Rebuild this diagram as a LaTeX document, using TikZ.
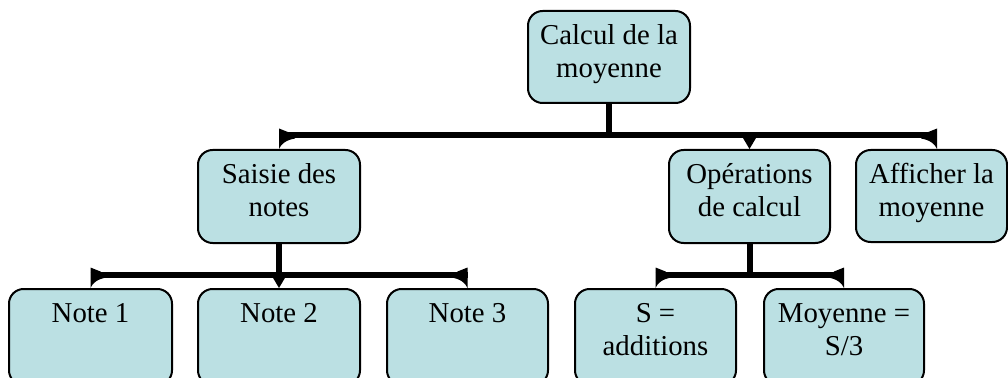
\documentclass[tikz,border=0pt]{standalone}
\usepackage{fontspec}
\setmainfont{Liberation Serif}
\usetikzlibrary{calc}
\newlength\PX \setlength\PX{0.75pt}
\definecolor{boxfill}{HTML}{BBE0E3}
\newcommand\btext[3]{\parbox[c][#2\PX][t]{#1\PX}{\centering\rule{0pt}{33.5\PX}#3}}
\tikzset{
  box/.style={draw=black, line width=1.5pt, fill=boxfill, rounded corners=11pt,
    inner sep=0pt, anchor=north west, font=\fontsize{21.6pt}{24.75pt}\selectfont},
  trunk/.style={line width=4.5pt},
  bar/.style={line width=4.5pt},
  wedge/.style={fill=black},
}
\begin{document}
\begin{tikzpicture}[x=0.75pt,y=-0.75pt]
\clip (0,0) rectangle (1008,378);
% boxes
\node[box] (top)    at (527,10)  {\btext{162}{92}{Calcul de la\\moyenne}};
\node[box] (saisie) at (197,149) {\btext{162}{93}{Saisie des\\notes}};
\node[box] (oper)   at (668,149) {\btext{161}{93}{Op\'erations\\de calcul}};
\node[box] (affich) at (855,149) {\btext{151}{92}{Afficher la\\moyenne}};
\node[box] (note1)  at (8,288)   {\btext{163}{96}{Note 1}};
\node[box] (note2)  at (197,288) {\btext{162}{96}{Note 2}};
\node[box] (note3)  at (386,288) {\btext{161}{96}{Note 3}};
\node[box] (somme)  at (574,288) {\btext{161}{96}{S =\\additions}};
\node[box] (moy)    at (763,288) {\btext{160}{96}{Moyenne =\\S/3}};
% level 1 connector
\coordinate (b1L) at ($(saisie.north)+(0,-13.5)$);
\coordinate (b1R) at ($(affich.north)+(5.5,-13.5)$);
\draw[bar] (b1L) -- (b1R);
\draw[trunk] (top.south) -- (top.south |- b1L);
\fill[wedge, shift={(saisie.north)}] (0,0) -- (0,-20.5) -- (10,-16.5) -- (16,-10.5) .. controls (7,-9) and (2,-5) .. (0,0) -- cycle;
\fill[wedge, shift={($(affich.north)+(5.5,0)$)}, xscale=-1] (0,0) -- (0,-20.5) -- (10,-16.5) -- (16,-10.5) .. controls (7,-9) and (2,-5) .. (0,0) -- cycle;
\fill[wedge, shift={(oper.north)}] (0,0) -- (-6.5,-11) -- (6.5,-11) -- cycle;
% level 2 connector (Saisie)
\coordinate (b2L) at ($(note1.north)+(0,-13.5)$);
\coordinate (b2R) at ($(note3.north)+(0,-13.5)$);
\draw[bar] (b2L) -- (b2R);
\draw[trunk] (saisie.south) -- (saisie.south |- b2L);
\fill[wedge, shift={(note1.north)}] (0,0) -- (0,-20.5) -- (10,-16.5) -- (16,-10.5) .. controls (7,-9) and (2,-5) .. (0,0) -- cycle;
\fill[wedge, shift={(note3.north)}, xscale=-1] (0,0) -- (0,-20.5) -- (10,-16.5) -- (16,-10.5) .. controls (7,-9) and (2,-5) .. (0,0) -- cycle;
\fill[wedge, shift={(note2.north)}] (0,0) -- (-6.5,-11) -- (6.5,-11) -- cycle;
% level 2 connector (Operations)
\coordinate (b3L) at ($(somme.north)+(0,-13.5)$);
\coordinate (b3R) at ($(moy.north)+(0,-13.5)$);
\draw[bar] (b3L) -- (b3R);
\draw[trunk] (oper.south) -- (oper.south |- b3L);
\fill[wedge, shift={(somme.north)}] (0,0) -- (0,-20.5) -- (10,-16.5) -- (16,-10.5) .. controls (7,-9) and (2,-5) .. (0,0) -- cycle;
\fill[wedge, shift={(moy.north)}, xscale=-1] (0,0) -- (0,-20.5) -- (10,-16.5) -- (16,-10.5) .. controls (7,-9) and (2,-5) .. (0,0) -- cycle;
\end{tikzpicture}
\end{document}
